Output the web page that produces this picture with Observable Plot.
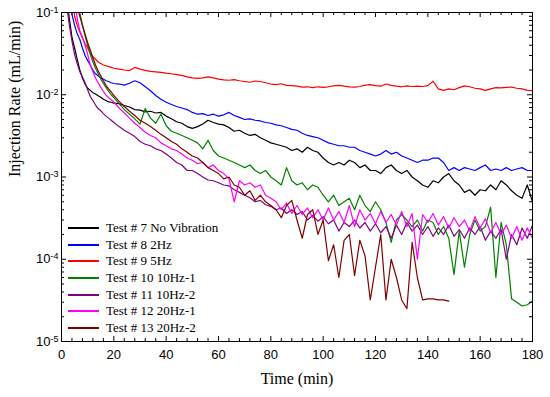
<!DOCTYPE html>
<html><head><meta charset="utf-8">
<script src="https://cdn.jsdelivr.net/npm/d3@7"></script>
<script src="https://cdn.jsdelivr.net/npm/@observablehq/plot@0.6"></script>
<style>
html,body{margin:0;padding:0;background:#fff;}
#wrap{position:relative;width:550px;height:397px;}
#legend{position:absolute;left:68px;top:219.7px;font-family:"Liberation Serif","Times New Roman",serif;font-size:13px;color:#000;}
.row{display:flex;align-items:center;height:16.67px;white-space:nowrap;}
.sw{width:31px;height:0;border-top:2px solid;margin-right:7px;}
</style></head>
<body><div id="wrap"><div id="legend"></div></div>
<script>
const timesEarly = [2,3,4,5,6,7,8,9,10,11,12,13,14,15,16,17,18,19,20];
const timesLate = [22,24,26,28,30,32,34,36,38,40,42,44,46,48,50,52,54,56,58,60,
  62,64,66,68,70,72,74,76,78,80,82,84,86,88,90,92,94,96,98,100,
  102,104,106,108,110,112,114,116,118,120,122,124,126,128,130,132,134,136,138,140,
  142,144,146,148,150,152,154,156,158,160,162,164,166,168,170,172,174,176,178,180];

const seriesNames = ["Test # 7 No Vibration","Test # 8 2Hz","Test # 9 5Hz","Test # 10 10Hz-1","Test # 11 10Hz-2","Test # 12 20Hz-1","Test # 13 20Hz-2"];
const seriesColors = ["#000000","#0000ff","#ff0000","#008000","#800080","#ff00ff","#800000"];

const test7 = [0.15,0.085,0.05,0.037,0.027,0.02,0.016,0.0135,0.012,0.0113,0.0106,0.0102,0.0097,0.0093,0.0088,0.0085,0.0082,0.0081,0.0079,
  0.0078,0.0074,0.0071,0.0066,0.0065,0.0062,0.0063,0.006,0.0061,0.0055,
  0.0051,0.0047,0.0045,0.0041,0.0039,0.0041,0.0044,0.0049,0.0046,0.0044,
  0.0043,0.004,0.0036,0.0037,0.0034,0.0032,0.0033,0.003,0.0028,0.0026,
  0.0025,0.0024,0.0023,0.0021,0.0022,0.002,0.0023,0.0021,0.002,0.0017,
  0.0015,0.0014,0.0015,0.0014,0.0016,0.0015,0.0013,0.0014,0.0012,0.0012,
  0.0011,0.0013,0.0014,0.0012,0.0011,0.0012,0.001,0.0009,0.0008,0.00075,
  0.0009,0.00085,0.001,0.0011,0.0009,0.0008,0.00065,0.0007,0.0006,0.0007,
  0.00068,0.0008,0.0007,0.0009,0.0008,0.00068,0.0006,0.00055,0.0008,0.0005];
const test8 = [null,0.2,0.095,0.07,0.055,0.047,0.037,0.03,0.026,0.023,0.02,0.018,0.017,0.016,0.0155,0.0148,0.0145,0.014,0.0137,
  0.0135,0.0131,0.0138,0.0148,0.014,0.0125,0.0112,0.0098,0.0088,0.0081,
  0.0076,0.0072,0.0069,0.0066,0.0061,0.0058,0.0059,0.0056,0.0058,0.0055,
  0.0057,0.0061,0.0056,0.0053,0.005,0.0051,0.0049,0.0048,0.0046,0.0045,
  0.0043,0.0042,0.004,0.0038,0.0037,0.0034,0.0032,0.0031,0.003,0.0028,
  0.0026,0.0025,0.0024,0.0024,0.0023,0.0023,0.0021,0.002,0.0019,0.0018,
  0.0019,0.0021,0.0019,0.002,0.0018,0.0017,0.0016,0.0015,0.0016,0.0016,
  0.0017,0.0017,0.0015,0.0012,0.0013,0.0012,0.0013,0.00125,0.0012,0.0013,
  0.0014,0.0012,0.00125,0.0012,0.0013,0.0012,0.00125,0.0013,0.0012,0.0012];
const test9 = [null,null,0.2,0.09,0.07,0.058,0.049,0.042,0.037,0.032,0.029,0.027,0.025,0.024,0.023,0.0225,0.022,0.0215,0.021,
  0.0205,0.02,0.0197,0.0215,0.0205,0.0198,0.0192,0.019,0.0187,0.0183,
  0.018,0.0176,0.0172,0.0165,0.016,0.0158,0.016,0.0165,0.016,0.0155,
  0.0152,0.015,0.0153,0.0148,0.0145,0.0142,0.0147,0.0145,0.014,0.0135,
  0.0133,0.0136,0.013,0.0129,0.0127,0.0124,0.0125,0.0122,0.0125,0.0123,
  0.0125,0.0128,0.013,0.0127,0.0125,0.0124,0.0126,0.0131,0.0133,0.0129,
  0.0127,0.0135,0.013,0.0127,0.0125,0.0128,0.0126,0.0127,0.0126,0.0129,
  0.0146,0.0118,0.0113,0.0118,0.0115,0.0122,0.0128,0.0125,0.012,0.0118,
  0.0113,0.0118,0.0122,0.0121,0.0123,0.0124,0.012,0.0118,0.0113,0.0112];
const test10 = [null,null,null,null,0.2,0.1,0.07,0.052,0.04,0.031,0.025,0.021,0.018,0.0155,0.0137,0.0123,0.011,0.01,0.0092,
  0.0078,0.0066,0.0058,0.0051,0.0044,0.0068,0.0052,0.0045,0.0058,0.0042,
  0.0036,0.0034,0.0032,0.003,0.0028,0.0026,0.0022,0.0028,0.0021,0.0018,
  0.0017,0.0016,0.0015,0.0014,0.0013,0.0014,0.0012,0.0011,0.0012,0.001,
  0.0009,0.0008,0.0013,0.0009,0.0008,0.00085,0.0007,0.0008,0.00075,0.0006,
  0.0005,0.0006,0.00045,0.0005,0.00055,0.0004,0.0006,0.00045,0.00038,0.0005,
  0.0004,0.00028,0.00016,0.0003,0.00035,0.0003,0.00025,0.0003,0.00022,0.0003,
  0.00028,0.0002,0.00025,0.00018,0.000065,0.00022,0.00008,0.0002,0.0003,0.00022,
  0.00025,0.00043,0.00006,0.00028,0.00015,0.000033,0.00003,0.000027,0.000028,0.000031];
const test11 = [0.12,0.07,0.045,0.031,0.024,0.019,0.0165,0.014,0.0115,0.0095,0.0085,0.0075,0.0068,0.0064,0.0059,0.0055,0.0052,0.0049,0.0046,
  0.0041,0.0037,0.0034,0.0031,0.0027,0.0025,0.0024,0.0022,0.0021,0.0019,
  0.0017,0.0015,0.0014,0.0012,0.0012,0.0011,0.001,0.00092,0.0009,0.00085,
  0.0008,0.00078,0.0007,0.00065,0.0006,0.00056,0.0005,0.00052,0.00046,0.00044,
  0.0004,0.00042,0.00036,0.0004,0.00035,0.00038,0.0003,0.00034,0.00029,0.00033,
  0.00027,0.0003,0.00022,0.00028,0.00025,0.0003,0.00024,0.00028,0.00022,0.00027,
  0.00021,0.00025,0.00018,0.00026,0.0002,0.00028,0.00022,0.00026,0.0002,0.00025,
  0.00019,0.00024,0.0002,0.00026,0.00019,0.00023,0.00018,0.00024,0.0002,0.00025,
  0.00017,0.00022,0.00018,0.00023,0.0001,0.0002,0.00015,0.00024,0.00018,0.00026];
const test12 = [null,null,null,0.15,0.085,0.06,0.05,0.04,0.031,0.023,0.019,0.016,0.014,0.0123,0.011,0.0099,0.0092,0.0087,0.0082,
  0.0069,0.006,0.0052,0.0045,0.004,0.0035,0.0032,0.003,0.0026,0.0024,
  0.0022,0.0021,0.0019,0.0017,0.0016,0.00145,0.0015,0.0013,0.0014,0.0012,
  0.0011,0.00095,0.0005,0.0009,0.0008,0.00085,0.00075,0.0008,0.0006,0.00055,
  0.0005,0.0004,0.00048,0.00036,0.00045,0.00035,0.00042,0.00032,0.0004,0.0003,
  0.00042,0.0003,0.00038,0.00028,0.00045,0.00025,0.0004,0.0003,0.00036,0.00027,
  0.00038,0.00028,0.00035,0.00026,0.00038,0.00025,0.00036,0.0001,0.00035,0.00028,
  0.00036,0.00026,0.00033,0.00024,0.00032,0.00025,0.0003,0.00022,0.00033,0.00024,
  0.00031,0.00021,0.00028,0.0002,0.00026,0.00018,0.00025,0.00017,0.00024,0.00018];
const test13 = [null,null,null,null,0.12,0.09,0.07,0.055,0.043,0.035,0.028,0.023,0.0195,0.017,0.0148,0.013,0.0118,0.0108,0.0098,
  0.0083,0.0072,0.0063,0.0056,0.0049,0.0045,0.0041,0.0037,0.0033,0.003,
  0.0027,0.0025,0.0022,0.002,0.0018,0.0017,0.0015,0.0013,0.0012,0.0011,
  0.00095,0.001,0.0008,0.00075,0.0006,0.00068,0.00052,0.0006,0.0005,0.00045,
  0.0004,0.00032,0.00045,0.00052,0.0003,0.00018,0.00035,0.0004,0.0002,0.0003,
  0.000096,0.00015,0.00006,0.00017,0.0002,0.000063,0.00017,0.00011,0.000032,0.00008,
  0.0002,0.000032,0.0001,0.00006,0.000032,0.000025,0.00016,0.00006,0.000032,0.000033,
  0.000033,0.000032,0.000032,0.000031,null,null,null,null,null,null,
  null,null,null,null,null,null,null,null,null,null];

const xMajor = [0,20,40,60,80,100,120,140,160,180];
const xMinor = [4,8,12,16,24,28,32,36,44,48,52,56,64,68,72,76,84,88,92,96,104,108,112,116,124,128,132,136,144,148,152,156,164,168,172,176];
const yMajor = [1e-5,1e-4,1e-3,1e-2,1e-1];
const yMinor = [2e-5,3e-5,4e-5,5e-5,6e-5,7e-5,8e-5,9e-5,2e-4,3e-4,4e-4,5e-4,6e-4,7e-4,8e-4,9e-4,
  2e-3,3e-3,4e-3,5e-3,6e-3,7e-3,8e-3,9e-3,2e-2,3e-2,4e-2,5e-2,6e-2,7e-2,8e-2,9e-2];

const allSeries = [test7,test8,test9,test10,test11,test12,test13];
const times = timesEarly.concat(timesLate);

const W = 550, H = 397, mL = 61, mR = 18, mT = 12, mB = 56;
const pw = W - mL - mR, ph = H - mT - mB;
const serif = "Liberation Serif, Times New Roman, serif";

const lineMarks = allSeries.map((vals, i) => {
  const rows = times.map((t, j) => ({t, v: vals[j]}));
  return Plot.line(rows, {x: "t", y: "v", stroke: seriesColors[i], strokeWidth: 1.2, clip: true});
});

const chart = Plot.plot({
  width: W, height: H,
  marginLeft: mL, marginRight: mR, marginTop: mT, marginBottom: mB,
  style: {fontFamily: "Liberation Sans, Arial, sans-serif", fontSize: "13px", background: "white", color: "black"},
  x: {domain: [0, 180]},
  y: {type: "log", domain: [1e-5, 1e-1]},
  marks: [
    ...lineMarks,
    Plot.frame({stroke: "black", strokeWidth: 1}),
    Plot.tickY(yMajor, {y: d => d, insetRight: pw - 5, stroke: "black"}),
    Plot.tickY(yMajor, {y: d => d, insetLeft: pw - 5, stroke: "black"}),
    Plot.tickY(yMinor, {y: d => d, insetRight: pw - 3, stroke: "black"}),
    Plot.tickY(yMinor, {y: d => d, insetLeft: pw - 3, stroke: "black"}),
    Plot.tickX(xMajor, {x: d => d, insetTop: ph - 5, stroke: "black"}),
    Plot.tickX(xMajor, {x: d => d, insetBottom: ph - 5, stroke: "black"}),
    Plot.tickX(xMinor, {x: d => d, insetTop: ph - 3, stroke: "black"}),
    Plot.tickX(xMinor, {x: d => d, insetBottom: ph - 3, stroke: "black"}),
    Plot.axisX({ticks: xMajor, tickSize: 0, tickPadding: 8, label: null, tickFormat: d => String(d)}),
    Plot.axisY({ticks: yMajor, tickSize: 0, tickPadding: 3, label: null, tickFormat: d => String(Math.round(Math.log10(d)))}),
    Plot.text(["Time (min)"], {text: d => d, frameAnchor: "bottom", dy: 42, fontFamily: serif, fontSize: 16, fill: "black"}),
    Plot.text(["Injection Rate (mL/min)"], {text: d => d, frameAnchor: "left", dx: -47, rotate: -90, fontFamily: serif, fontSize: 16, fill: "black"})
  ]
});

const ns = "http://www.w3.org/2000/svg";
chart.querySelectorAll('[aria-label="y-axis tick label"] text').forEach(t => {
  const e = t.textContent.replace("\u2212", "-");
  t.textContent = "";
  const a = document.createElementNS(ns, "tspan"); a.textContent = "10";
  const b = document.createElementNS(ns, "tspan"); b.textContent = e;
  b.setAttribute("dy", "-0.45em"); b.setAttribute("font-size", "9");
  t.append(a, b);
});

const wrap = document.getElementById("wrap");
wrap.insertBefore(chart, wrap.firstChild);

const legend = document.getElementById("legend");
seriesNames.forEach((name, i) => {
  const row = document.createElement("div"); row.className = "row";
  const sw = document.createElement("div"); sw.className = "sw"; sw.style.borderTopColor = seriesColors[i];
  const lab = document.createElement("span"); lab.textContent = name;
  row.append(sw, lab); legend.append(row);
});
</script>
</body></html>
